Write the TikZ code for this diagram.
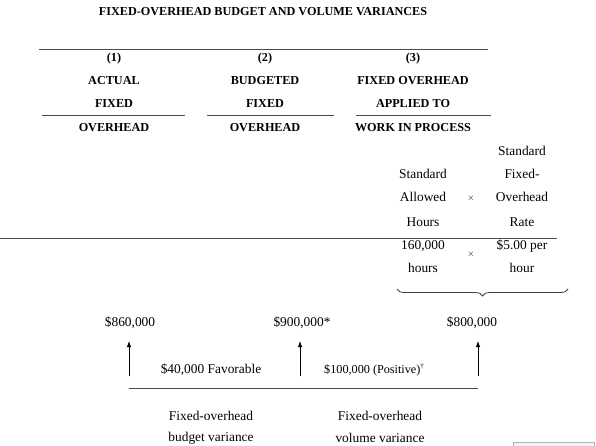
\documentclass[tikz,border=0pt]{standalone}
\usepackage{fontspec}
\setmainfont{Liberation Serif}
\usetikzlibrary{arrows.meta,decorations.pathreplacing}
\begin{document}
\begin{tikzpicture}[x=1pt,y=-1pt,
  hd/.style={font=\fontsize{12.2}{14}\selectfont\bfseries,inner sep=0pt,anchor=center},
  tx/.style={font=\fontsize{13.4}{15}\selectfont,inner sep=0pt,anchor=center},
  txs/.style={font=\fontsize{12.2}{14}\selectfont,inner sep=0pt,anchor=west},
  rule/.style={draw=black!70,line width=0.9pt},
  arr/.style={draw=black,line width=0.8pt,-{Latex[length=6pt,width=4.5pt]}}]
\useasboundingbox (0,0) rectangle (596,446);
\fill[white] (0,0) rectangle (596,446);
% title
\node[hd] (title) at (263,12) {FIXED-OVERHEAD BUDGET AND VOLUME VARIANCES};
% rules
\draw[rule] (39,49) -- (488,49);
\draw[rule] (42,115) -- (185,115);
\draw[rule] (207,115) -- (334,115);
\draw[rule] (356,115) -- (491,115);
\draw[rule] (0,238) -- (557,238);
% column 1
\node[hd] (c1a) at (114,59) {(1)};
\node[hd] (c1b) at (114,81) {ACTUAL};
\node[hd] (c1c) at (114,104) {FIXED};
\node[hd] (c1d) at (114,128) {OVERHEAD};
% column 2
\node[hd] (c2a) at (265,59) {(2)};
\node[hd] (c2b) at (265,81) {BUDGETED};
\node[hd] (c2c) at (265,104) {FIXED};
\node[hd] (c2d) at (265,128) {OVERHEAD};
% column 3
\node[hd] (c3a) at (413,59) {(3)};
\node[hd] (c3b) at (413,81) {FIXED OVERHEAD};
\node[hd] (c3c) at (413,104) {APPLIED TO};
\node[hd] (c3d) at (413,128) {WORK IN PROCESS};
% sub columns
\node[tx] (sa1) at (423,174) {Standard};
\node[tx] (sa2) at (423,197) {Allowed};
\node[tx] (sa3) at (423,222) {Hours};
\node[tx] (x1) at (471,198) {\fontsize{9}{10}\selectfont$\times$};
\node[tx] (sr0) at (522,151) {Standard};
\node[tx] (sr1) at (522,174) {Fixed-};
\node[tx] (sr2) at (522,197) {Overhead};
\node[tx] (sr3) at (522,222) {Rate};
\node[tx] (v1) at (423,246) {160,000};
\node[tx] (v2) at (423,268) {hours};
\node[tx] (x2) at (471,254) {\fontsize{9}{10}\selectfont$\times$};
\node[tx] (r1) at (522,246) {\$5.00 per};
\node[tx] (r2) at (522,268) {hour};
% brace
\coordinate (bl) at (397,289);
\coordinate (br) at (568,289);
\draw[draw=black!75,line width=0.8pt,decorate,decoration={brace,mirror,amplitude=7pt}] (bl) -- (br);
% amounts
\node[tx] (a1) at (130,323) {\$860,000};
\node[tx] (a2) at (302,323) {\$900,000*};
\node[tx] (a3) at (472,323) {\$800,000};
% arrows
\coordinate (b1) at (129,376);
\coordinate (t1) at (129,341);
\coordinate (b2) at (300,376);
\coordinate (t2) at (300,341);
\coordinate (b3) at (478,376);
\coordinate (t3) at (478,341);
\draw[arr] (b1) -- (t1);
\draw[arr] (b2) -- (t2);
\draw[arr] (b3) -- (t3);
\node[tx] (f1) at (211,370) {\$40,000 Favorable};
\node[txs] (f2) at (324,370) {\$100,000 (Positive)\textsuperscript{\fontsize{7}{8}\selectfont\textdagger}};
\draw[rule] (129,388) -- (478,388);
\node[tx] (l1) at (211,416) {Fixed-overhead};
\node[tx] (l2) at (211,438) {budget variance};
\node[tx] (l3) at (380,416) {Fixed-overhead};
\node[tx] (l4) at (380,438) {volume variance};
% corner artifact
\draw[black!30,fill=black!5,line width=0.6pt] (513,442) rectangle (594,447);
\end{tikzpicture}
\end{document}
